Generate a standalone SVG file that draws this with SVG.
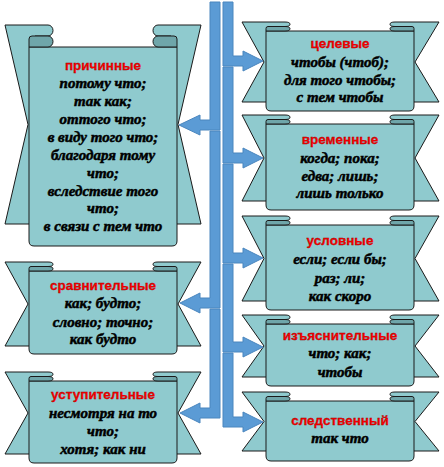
<svg xmlns="http://www.w3.org/2000/svg" width="444" height="467" viewBox="0 0 444 467">
<style>
.tail{fill:#8FCACE;stroke:#1a1a1a;stroke-width:1;stroke-linejoin:round}
.curl{fill:#6FA6AA;stroke:#1a1a1a;stroke-width:1;stroke-linejoin:round}
.body{fill:#8FCACE;stroke:#1a1a1a;stroke-width:1}
.arr{fill:#5B9BD5;stroke:#4A86BE;stroke-width:1;stroke-linejoin:miter}
text{text-anchor:middle}
.t{font-family:"Liberation Sans",Arial,sans-serif;font-weight:bold;font-size:13.5px;fill:#FF0000;stroke:#9a0000;stroke-width:0.3}
.b{font-family:"Liberation Serif","Times New Roman",serif;font-weight:bold;font-style:italic;font-size:15px;fill:#000;stroke:#000;stroke-width:0.5}
</style>
<rect width="444" height="467" fill="#fff"/>

<g id="prichinnye">
<path class="tail" d="M5,25 H48 A5,5.5 0 0 1 48,36 H35 V224 H5 L28,124.5 Z"/>
<path class="tail" d="M201,25 H158 A5,5.5 0 0 0 158,36 H171 V224 H201 L178,124.5 Z"/>
<path class="body" d="M29,47 H177 V241 Q177,246 172,246 H34 Q29,246 29,241 Z"/>
<path class="curl" d="M29,47 V39 Q29,36 32,36 H48 A5,5.5 0 0 1 48,47 Z"/>
<path class="curl" d="M177,47 V39 Q177,36 174,36 H158 A5,5.5 0 0 0 158,47 Z"/>
<text class="t" x="103" y="70">причинные</text>
<text class="b" x="103" y="88">потому что;</text>
<text class="b" x="103" y="106">так как;</text>
<text class="b" x="103" y="124">оттого что;</text>
<text class="b" x="103" y="142">в виду того что;</text>
<text class="b" x="103" y="160">благодаря тому</text>
<text class="b" x="103" y="178">что;</text>
<text class="b" x="103" y="196">вследствие того</text>
<text class="b" x="103" y="213">что;</text>
<text class="b" x="103" y="231">в связи с тем что</text>
</g>

<g id="sravnitelnye">
<path class="tail" d="M5,262 H48 A5,2.25 0 0 1 48,266.5 H35 V346 H5 L28,304 Z"/>
<path class="tail" d="M201,262 H158 A5,2.25 0 0 0 158,266.5 H171 V346 H201 L178,304 Z"/>
<path class="body" d="M29,271 H177 V349 Q177,354 172,354 H34 Q29,354 29,349 Z"/>
<path class="curl" d="M29,271 V268.5 Q29,266.5 31,266.5 H48 A5,2.25 0 0 1 48,271 Z"/>
<path class="curl" d="M177,271 V268.5 Q177,266.5 175,266.5 H158 A5,2.25 0 0 0 158,271 Z"/>
<text class="t" x="103" y="290">сравнительные</text>
<text class="b" x="103" y="308">как; будто;</text>
<text class="b" x="103" y="327">словно; точно;</text>
<text class="b" x="103" y="344">как будто</text>
</g>

<g id="ustupitelnye">
<path class="tail" d="M5,372 H48 A5,2.25 0 0 1 48,376.5 H35 V454 H5 L28,413 Z"/>
<path class="tail" d="M201,372 H158 A5,2.25 0 0 0 158,376.5 H171 V454 H201 L178,413 Z"/>
<path class="body" d="M29,381 H177 V458 Q177,463 172,463 H34 Q29,463 29,458 Z"/>
<path class="curl" d="M29,381 V378.5 Q29,376.5 31,376.5 H48 A5,2.25 0 0 1 48,381 Z"/>
<path class="curl" d="M177,381 V378.5 Q177,376.5 175,376.5 H158 A5,2.25 0 0 0 158,381 Z"/>
<text class="t" x="103" y="399">уступительные</text>
<text class="b" x="103" y="418">несмотря на то</text>
<text class="b" x="103" y="436">что;</text>
<text class="b" x="103" y="454">хотя; как ни</text>
</g>

<g id="tselevye">
<path class="tail" d="M242,22 H285 A5,2.25 0 0 1 285,26.5 H272 V102 H242 L264,62 Z"/>
<path class="tail" d="M439,22 H395 A5,2.25 0 0 0 395,26.5 H408 V102 H439 L415,62 Z"/>
<path class="body" d="M266,31 H414 V106 Q414,111 409,111 H271 Q266,111 266,106 Z"/>
<path class="curl" d="M266,31 V28.5 Q266,26.5 268,26.5 H285 A5,2.25 0 0 1 285,31 Z"/>
<path class="curl" d="M414,31 V28.5 Q414,26.5 412,26.5 H395 A5,2.25 0 0 0 395,31 Z"/>
<text class="t" x="340" y="48">целевые</text>
<text class="b" x="340" y="67">чтобы (чтоб);</text>
<text class="b" x="340" y="85">для того чтобы;</text>
<text class="b" x="340" y="102">с тем чтобы</text>
</g>

<g id="vremennye">
<path class="tail" d="M242,115 H285 A5,2.25 0 0 1 285,119.5 H272 V201 H242 L264,158 Z"/>
<path class="tail" d="M439,115 H395 A5,2.25 0 0 0 395,119.5 H408 V201 H439 L415,158 Z"/>
<path class="body" d="M266,124 H414 V205 Q414,210 409,210 H271 Q266,210 266,205 Z"/>
<path class="curl" d="M266,124 V121.5 Q266,119.5 268,119.5 H285 A5,2.25 0 0 1 285,124 Z"/>
<path class="curl" d="M414,124 V121.5 Q414,119.5 412,119.5 H395 A5,2.25 0 0 0 395,124 Z"/>
<text class="t" x="340" y="144">временные</text>
<text class="b" x="340" y="163">когда; пока;</text>
<text class="b" x="340" y="181">едва; лишь;</text>
<text class="b" x="340" y="198">лишь только</text>
</g>

<g id="uslovnye">
<path class="tail" d="M242,216 H285 A5,2.25 0 0 1 285,220.5 H272 V301 H242 L264,258.5 Z"/>
<path class="tail" d="M439,216 H395 A5,2.25 0 0 0 395,220.5 H408 V301 H439 L415,258.5 Z"/>
<path class="body" d="M266,225 H414 V305 Q414,310 409,310 H271 Q266,310 266,305 Z"/>
<path class="curl" d="M266,225 V222.5 Q266,220.5 268,220.5 H285 A5,2.25 0 0 1 285,225 Z"/>
<path class="curl" d="M414,225 V222.5 Q414,220.5 412,220.5 H395 A5,2.25 0 0 0 395,225 Z"/>
<text class="t" x="340" y="245">условные</text>
<text class="b" x="340" y="264">если; если бы;</text>
<text class="b" x="340" y="283">раз; ли;</text>
<text class="b" x="340" y="301">как скоро</text>
</g>

<g id="izyasnitelnye">
<path class="tail" d="M242,315 H285 A5,2.25 0 0 1 285,319.5 H272 V377 H242 L264,346 Z"/>
<path class="tail" d="M439,315 H395 A5,2.25 0 0 0 395,319.5 H408 V377 H439 L415,346 Z"/>
<path class="body" d="M266,324 H414 V381 Q414,386 409,386 H271 Q266,386 266,381 Z"/>
<path class="curl" d="M266,324 V321.5 Q266,319.5 268,319.5 H285 A5,2.25 0 0 1 285,324 Z"/>
<path class="curl" d="M414,324 V321.5 Q414,319.5 412,319.5 H395 A5,2.25 0 0 0 395,324 Z"/>
<text class="t" x="340" y="340">изъяснительные</text>
<text class="b" x="340" y="358">что; как;</text>
<text class="b" x="340" y="377">чтобы</text>
</g>

<g id="sledstvennyi">
<path class="tail" d="M242,392 H285 A5,2.25 0 0 1 285,396.5 H272 V451 H242 L264,421.5 Z"/>
<path class="tail" d="M439,392 H395 A5,2.25 0 0 0 395,396.5 H408 V451 H439 L415,421.5 Z"/>
<path class="body" d="M266,401 H414 V456 Q414,461 409,461 H271 Q266,461 266,456 Z"/>
<path class="curl" d="M266,401 V398.5 Q266,396.5 268,396.5 H285 A5,2.25 0 0 1 285,401 Z"/>
<path class="curl" d="M414,401 V398.5 Q414,396.5 412,396.5 H395 A5,2.25 0 0 0 395,401 Z"/>
<text class="t" x="340" y="425">следственный</text>
<text class="b" x="340" y="443">так что</text>
</g>

<g id="connectors">
<path class="arr" d="M210,2 H220 V130 H200 V135 L179,125 L200,115 V120 H210 Z"/>
<path class="arr" d="M210,131 H220 V308 H200 V313 L180,303 L200,293 V298 H210 Z"/>
<path class="arr" d="M210,309 H220 V418 H200 V423 L180,413 L200,403 V408 H210 Z"/>
<path class="arr" d="M223,2 H233 V56 H243 V51 L263,61 L243,71 V66 H223 Z"/>
<path class="arr" d="M223,67 H233 V153 H243 V148 L263,158 L243,168 V163 H223 Z"/>
<path class="arr" d="M223,164 H233 V253 H243 V248 L263,258 L243,268 V263 H223 Z"/>
<path class="arr" d="M223,264 H233 V342 H243 V337 L263,347 L243,357 V352 H223 Z"/>
<path class="arr" d="M223,353 H233 V417 H243 V412 L263,422 L243,432 V427 H223 Z"/>
</g>
</svg>
